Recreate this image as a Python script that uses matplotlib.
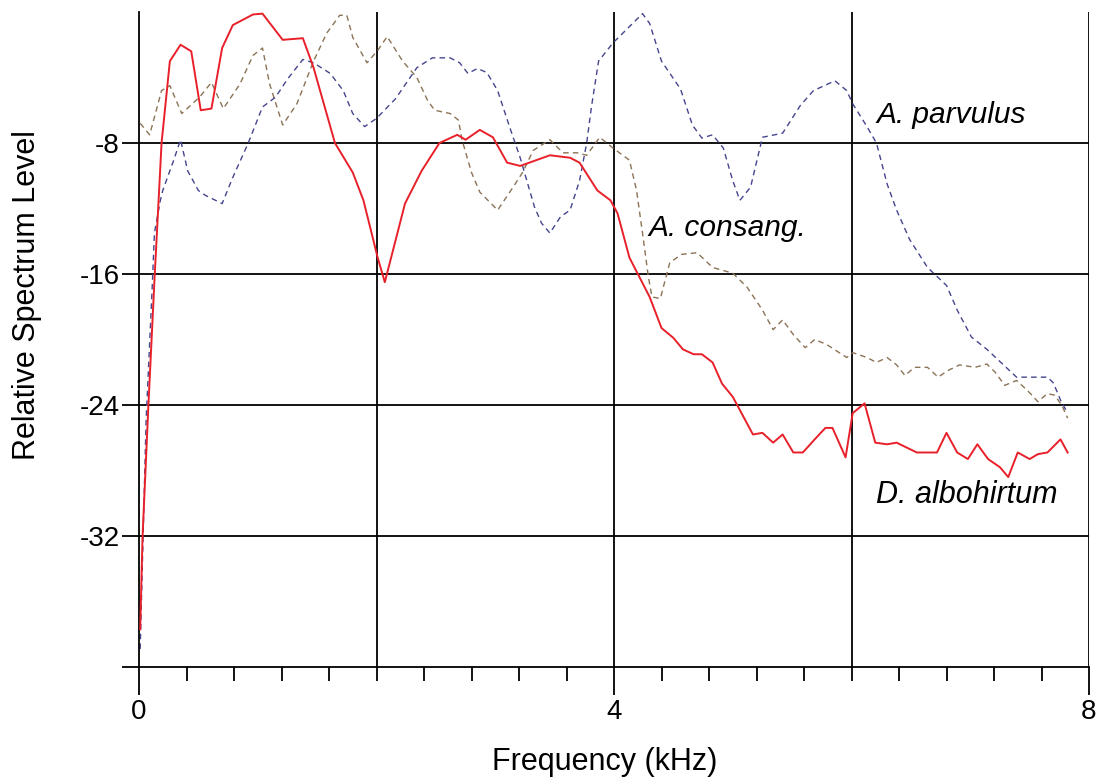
import numpy as np
import matplotlib
matplotlib.use("Agg")
import matplotlib.pyplot as plt
from matplotlib.ticker import MultipleLocator, FixedLocator

plt.rcParams["font.family"] = ["Liberation Sans", "DejaVu Sans"]

# D. albohirtum (kHz, dB)
alb_f = [0.01, 0.03, 0.08, 0.13, 0.19, 0.26, 0.35, 0.44, 0.52, 0.61, 0.70, 0.79, 0.96, 1.04,
         1.21, 1.38, 1.47, 1.65, 1.80, 1.89, 2.01, 2.07, 2.24, 2.38, 2.53, 2.68, 2.75, 2.87,
         2.98, 3.10, 3.21, 3.46, 3.63, 3.71, 3.86, 3.97, 4.03, 4.13, 4.30, 4.40, 4.50, 4.58,
         4.67, 4.74, 4.83, 4.91, 5.00, 5.17, 5.25, 5.34, 5.42, 5.51, 5.59, 5.69, 5.78, 5.84,
         5.95, 6.01, 6.11, 6.20, 6.30, 6.38, 6.55, 6.72, 6.80, 6.89, 6.98, 7.06, 7.15, 7.25,
         7.32, 7.40, 7.50, 7.57, 7.65, 7.76, 7.82]
alb_db = [-37.7, -32.0, -23.9, -16.4, -8.0, -3.0, -2.0, -2.4, -6.0, -5.9, -2.2, -0.8, -0.15, -0.1,
          -1.7, -1.6, -3.4, -8.0, -9.8, -11.5, -15.0, -16.5, -11.7, -9.7, -8.0, -7.5, -7.8, -7.2,
          -7.65, -9.2, -9.4, -8.75, -8.9, -9.2, -10.9, -11.5, -12.3, -15.0, -17.4, -19.3, -19.9, -20.6,
          -20.9, -20.9, -21.4, -22.7, -23.5, -25.8, -25.7, -26.3, -25.8, -26.9, -26.9, -26.1, -25.4, -25.4,
          -27.2, -24.5, -23.9, -26.3, -26.4, -26.3, -26.9, -26.9, -25.7, -26.9, -27.3, -26.4, -27.3, -27.8,
          -28.4, -26.9, -27.3, -27.0, -26.9, -26.1, -26.9]

# A. parvulus
par_f = [0.01, 0.06, 0.11, 0.13, 0.18, 0.20, 0.29, 0.35, 0.41, 0.50, 0.56, 0.70, 0.79, 0.92,
         1.04, 1.15, 1.25, 1.38, 1.47, 1.61, 1.72, 1.80, 1.90, 2.00, 2.16, 2.34, 2.47, 2.62,
         2.70, 2.77, 2.85, 2.93, 3.02, 3.12, 3.21, 3.33, 3.39, 3.46, 3.55, 3.63, 3.71, 3.77,
         3.81, 3.87, 3.99, 4.24, 4.30, 4.40, 4.56, 4.66, 4.74, 4.83, 4.92, 5.00, 5.06, 5.15,
         5.25, 5.42, 5.57, 5.68, 5.86, 5.96, 6.01, 6.13, 6.21, 6.30, 6.38, 6.49, 6.64, 6.80,
         6.89, 7.01, 7.14, 7.28, 7.39, 7.50, 7.65, 7.70, 7.76, 7.82]
par_db = [-38.9, -24.9, -17.0, -13.5, -11.5, -10.9, -9.1, -7.8, -9.7, -10.9, -11.2, -11.7, -10.1, -8.0,
          -5.8, -5.2, -4.1, -2.9, -3.1, -3.75, -4.8, -6.2, -7.0, -6.5, -5.3, -3.4, -2.8, -2.8,
          -3.1, -3.75, -3.45, -3.7, -4.8, -7.0, -8.9, -11.9, -12.9, -13.5, -12.5, -12.1, -10.3, -8.0,
          -5.8, -3.0, -1.9, -0.1, -0.7, -3.0, -4.7, -6.9, -7.7, -7.5, -8.3, -10.3, -11.5, -10.7,
          -7.65, -7.4, -5.7, -4.8, -4.2, -4.8, -5.6, -7.0, -8.0, -10.5, -12.1, -13.9, -15.6, -16.7,
          -18.2, -19.85, -20.6, -21.55, -22.3, -22.3, -22.3, -22.65, -23.7, -24.5]

# A. consang.
con_f = [0.01, 0.09, 0.19, 0.26, 0.36, 0.51, 0.61, 0.71, 0.85, 0.96, 1.04, 1.10, 1.21, 1.33,
         1.47, 1.58, 1.69, 1.75, 1.80, 1.92, 2.01, 2.09, 2.22, 2.34, 2.43, 2.49, 2.62, 2.69,
         2.72, 2.80, 2.87, 3.02, 3.15, 3.23, 3.32, 3.46, 3.57, 3.69, 3.77, 3.88, 3.99, 4.13,
         4.19, 4.24, 4.29, 4.32, 4.39, 4.47, 4.57, 4.70, 4.83, 5.00, 5.12, 5.25, 5.34, 5.42,
         5.51, 5.61, 5.69, 5.79, 5.96, 6.01, 6.13, 6.21, 6.30, 6.38, 6.45, 6.53, 6.64, 6.73,
         6.81, 6.91, 7.04, 7.14, 7.21, 7.29, 7.39, 7.48, 7.57, 7.65, 7.71, 7.77, 7.82]
con_db = [-6.8, -7.5, -4.8, -4.5, -6.2, -5.2, -4.3, -5.9, -4.4, -2.65, -2.2, -4.4, -6.9, -5.6,
          -3.0, -1.3, -0.2, -0.2, -1.55, -3.1, -2.35, -1.5, -3.0, -4.0, -5.4, -6.0, -6.2, -6.6,
          -7.8, -9.8, -11.0, -12.1, -10.7, -9.8, -8.45, -7.8, -8.6, -8.6, -8.75, -7.65, -8.3, -9.05,
          -10.9, -13.5, -16.2, -17.4, -17.5, -15.3, -14.8, -14.7, -15.6, -15.95, -16.8, -18.2, -19.4, -18.8,
          -19.7, -20.5, -20.0, -20.3, -21.1, -20.8, -21.1, -21.4, -21.1, -21.55, -22.2, -21.7, -21.7, -22.3,
          -21.9, -21.55, -21.7, -21.5, -22.0, -22.8, -22.5, -23.1, -23.8, -23.3, -23.4, -24.0, -24.8]

y_labels = [-32, -24, -16, -8]
x_labels = [0, 4, 8]

fig = plt.figure(figsize=(10.99, 7.77), dpi=100)
ax = fig.add_axes([139 / 1099, 1 - 667 / 777, 950 / 1099, 655 / 777])

# grid lines
for gx in [2, 4, 6, 8]:
    ax.axvline(gx, color="black", lw=1.3, zorder=1)
for gy in y_labels:
    ax.axhline(gy, color="black", lw=1.3, zorder=1)

ax.plot(con_f, con_db, color="#8b7355", lw=1.0, ls=(0, (4, 3)), zorder=2)
ax.plot(par_f, par_db, color="#45458f", lw=1.0, ls=(0, (4, 3)), zorder=2)
ax.plot(alb_f, alb_db, color="#e8202a", lw=1.4, zorder=3)

ax.set_xlim(0, 8)
ax.set_ylim(-40, 0)

for s in ["top", "right"]:
    ax.spines[s].set_visible(False)
ax.spines["left"].set_linewidth(1.3)
ax.spines["bottom"].set_linewidth(1.3)

ax.xaxis.set_major_locator(FixedLocator(x_labels))
ax.xaxis.set_minor_locator(MultipleLocator(0.4))
ax.tick_params(axis="x", which="major", length=20, width=1.3, labelsize=20, pad=3)
ax.tick_params(axis="x", which="minor", length=10, width=1.3)

ax.yaxis.set_major_locator(FixedLocator([-40] + y_labels))
ax.set_yticklabels([""] + [str(v) for v in y_labels])
ax.tick_params(axis="y", which="major", length=12, width=1.3, labelsize=20, pad=2)

ax.set_xlabel("Frequency (kHz)", fontsize=22)
ax.xaxis.set_label_coords(0.49, -0.122)
ax.set_ylabel("Relative Spectrum Level", fontsize=22)
ax.yaxis.set_label_coords(-0.102, 0.568)

ax.text(6.21, -6.3, "A. parvulus", fontsize=21.5, style="italic", va="center", ha="left")
ax.text(4.29, -13.2, "A. consang.", fontsize=21.5, style="italic", va="center", ha="left")
ax.text(6.21, -29.5, "D. albohirtum", fontsize=22, style="italic", va="center", ha="left")

fig.savefig("out.png", dpi=100)
